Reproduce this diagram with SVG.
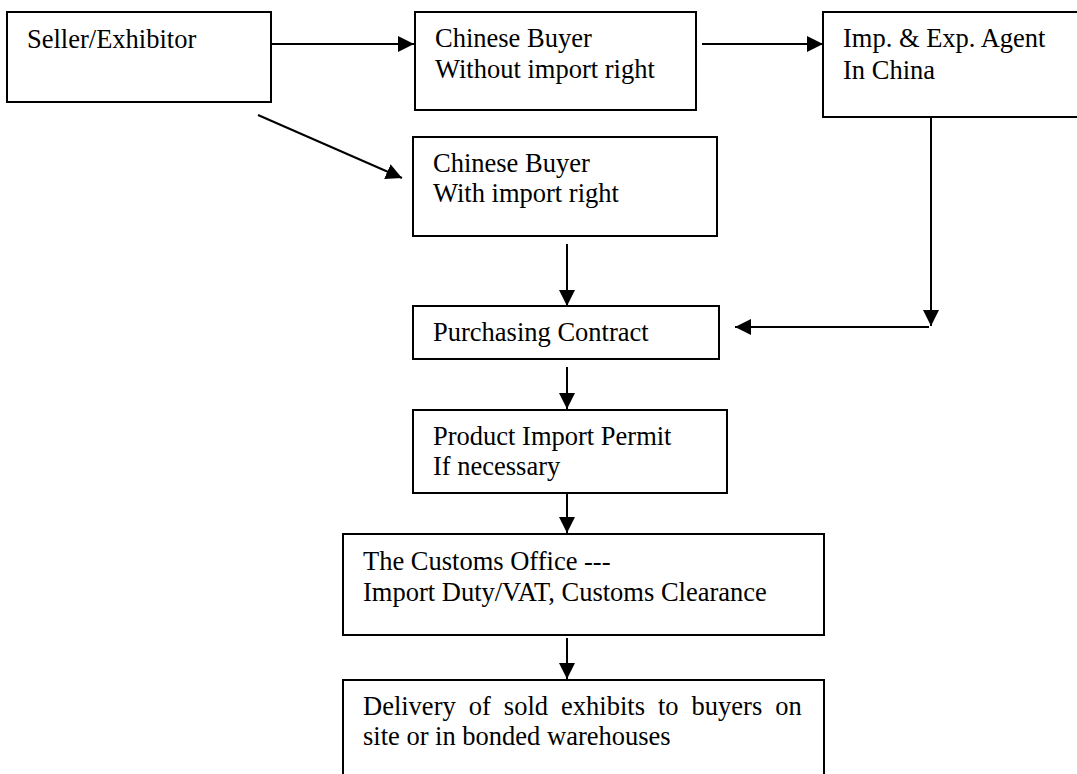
<svg xmlns="http://www.w3.org/2000/svg" width="1077" height="774" viewBox="0 0 1077 774">
<style>
.box{fill:#fff;stroke:#000;stroke-width:2}
.t{font-family:"Liberation Serif","Times New Roman",serif;font-size:26.5px;fill:#000}
.c{stroke:#000;stroke-width:2;fill:none;marker-end:url(#ah)}
</style>
<defs>
<marker id="ah" markerUnits="userSpaceOnUse" markerWidth="17" markerHeight="17" viewBox="0 0 17 17" refX="16" refY="8.5" orient="auto">
<path d="M0,0.5 L16,8.5 L0,16.5 Z" fill="#000"/>
</marker>
</defs>
<rect width="1077" height="774" fill="#fff"/>
<g id="connectors">
<line class="c" x1="271" y1="44" x2="414" y2="44"/>
<line class="c" x1="702" y1="44" x2="823" y2="44"/>
<line class="c" x1="258" y1="115" x2="402" y2="178"/>
<line class="c" x1="931" y1="117" x2="931" y2="326"/>
<line class="c" x1="929" y1="327" x2="735" y2="327"/>
<line class="c" x1="567" y1="244" x2="567" y2="306"/>
<line class="c" x1="567" y1="367" x2="567" y2="409"/>
<line class="c" x1="567" y1="493" x2="567" y2="533"/>
<line class="c" x1="567" y1="638" x2="567" y2="679"/>
</g>
<g id="seller">
<rect class="box" x="7" y="12" width="264" height="90"/>
<text class="t" x="27" y="48">Seller/Exhibitor</text>
</g>
<g id="buyer-without">
<rect class="box" x="415" y="12" width="281" height="98"/>
<text class="t" x="435" y="47">Chinese Buyer</text>
<text class="t" x="435" y="77.5">Without import right</text>
</g>
<g id="agent">
<rect class="box" x="823" y="12" width="260" height="105"/>
<text class="t" x="843" y="47">Imp. &amp; Exp. Agent</text>
<text class="t" x="843" y="79">In China</text>
</g>
<g id="buyer-with">
<rect class="box" x="413" y="137" width="304" height="99"/>
<text class="t" x="433" y="171.5">Chinese Buyer</text>
<text class="t" x="433" y="202">With import right</text>
</g>
<g id="contract">
<rect class="box" x="413" y="306" width="306" height="53"/>
<text class="t" x="433" y="341">Purchasing Contract</text>
</g>
<g id="permit">
<rect class="box" x="413" y="410" width="314" height="83"/>
<text class="t" x="433" y="445">Product Import Permit</text>
<text class="t" x="433" y="475">If necessary</text>
</g>
<g id="customs">
<rect class="box" x="343" y="534" width="481" height="101"/>
<text class="t" x="363" y="570">The Customs Office ---</text>
<text class="t" x="363" y="601">Import Duty/VAT, Customs Clearance</text>
</g>
<g id="delivery">
<rect class="box" x="343" y="680" width="481" height="110"/>
<text class="t" x="363" y="715" word-spacing="6.4">Delivery of sold exhibits to buyers on</text>
<text class="t" x="363" y="745">site or in bonded warehouses</text>
</g>
</svg>
